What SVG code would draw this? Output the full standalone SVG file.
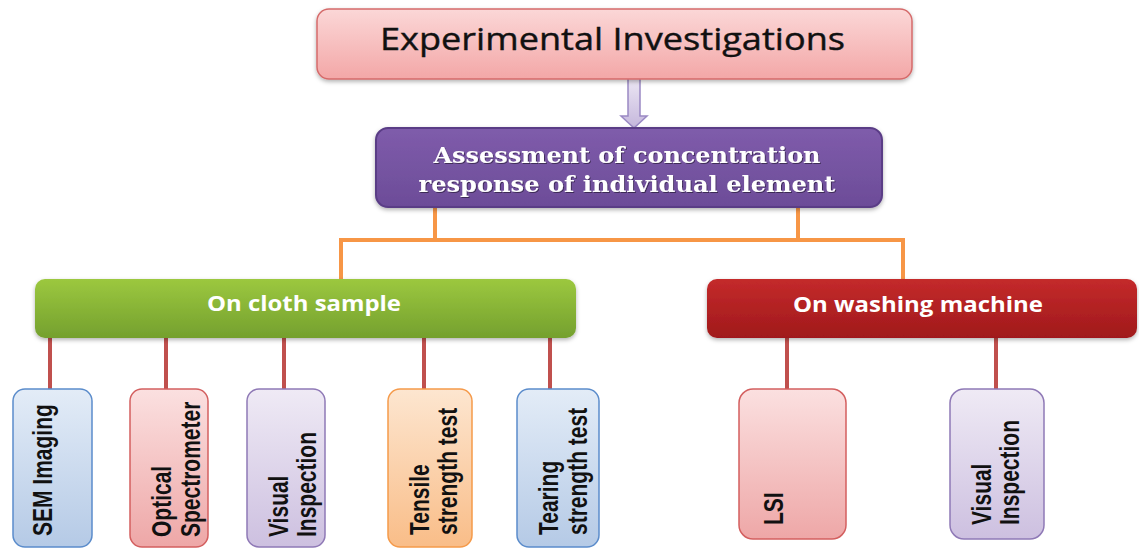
<svg xmlns="http://www.w3.org/2000/svg" width="1139" height="550" viewBox="0 0 1139 550">
<defs>
<linearGradient id="gPink" x1="0" y1="0" x2="0" y2="1"><stop offset="0" stop-color="#fbd7d7"/><stop offset="1" stop-color="#f3a7a7"/></linearGradient>
<linearGradient id="gArrow" x1="0" y1="0" x2="0" y2="1"><stop offset="0" stop-color="#ece7f4"/><stop offset="1" stop-color="#c5b7dc"/></linearGradient>
<linearGradient id="gPurple" x1="0" y1="0" x2="0" y2="1"><stop offset="0" stop-color="#7f5cab"/><stop offset="1" stop-color="#6c4c98"/></linearGradient>
<linearGradient id="gGreen" x1="0" y1="0" x2="0" y2="1"><stop offset="0" stop-color="#9cc83f"/><stop offset="1" stop-color="#74a02e"/></linearGradient>
<linearGradient id="gRed" x1="0" y1="0" x2="0" y2="1"><stop offset="0" stop-color="#c42a2b"/><stop offset="1" stop-color="#a0191b"/></linearGradient>
<linearGradient id="cBlue" x1="0" y1="0" x2="0" y2="1"><stop offset="0" stop-color="#e3ecf7"/><stop offset="1" stop-color="#b5cae6"/></linearGradient>
<linearGradient id="cPink" x1="0" y1="0" x2="0" y2="1"><stop offset="0" stop-color="#fbe0e0"/><stop offset="1" stop-color="#eea7a7"/></linearGradient>
<linearGradient id="cLav" x1="0" y1="0" x2="0" y2="1"><stop offset="0" stop-color="#efeaf5"/><stop offset="1" stop-color="#cdc0e0"/></linearGradient>
<linearGradient id="cOrange" x1="0" y1="0" x2="0" y2="1"><stop offset="0" stop-color="#fde6d0"/><stop offset="1" stop-color="#f9bd88"/></linearGradient>
<filter id="sh" x="-5%" y="-10%" width="110%" height="130%"><feDropShadow dx="0" dy="2" stdDeviation="2" flood-color="#000" flood-opacity="0.3"/></filter>
<filter id="tsh" x="-5%" y="-20%" width="110%" height="150%"><feDropShadow dx="1" dy="1" stdDeviation="0.6" flood-color="#000" flood-opacity="0.45"/></filter>
</defs>
<style>
.lbl{font-family:"Liberation Sans",Arial,sans-serif;font-weight:bold;font-size:21px;fill:#111;}
.hdr{font-family:"Open Sans","Liberation Sans",sans-serif;font-weight:bold;font-size:21px;fill:#fff;text-anchor:middle;}
.orange{stroke:#f79646;stroke-width:4;fill:none;}
.red{stroke:#c0504d;stroke-width:4;fill:none;}
</style>
<rect width="1139" height="550" fill="#fff"/>
<g id="connectors">
<polygon points="628,78 640,78 640,116 647,116 634,128 621,116 628,116" fill="url(#gArrow)" stroke="#9a89c4" stroke-width="1.5"/>
<path class="orange" d="M435,207 V240 M798,207 V240 M341,279 V240 H903 V279"/>
<path class="red" d="M50,338 V389 M166,338 V389 M284,338 V389 M424,338 V389 M550,338 V389 M787,338 V389 M996,338 V389"/>
</g>
<g id="n-top">
<rect x="317" y="9" width="595" height="70" rx="12" fill="url(#gPink)" stroke="#d56b6b" stroke-width="1.5" filter="url(#sh)"/>
<text x="612.5" y="50" text-anchor="middle" font-family="Open Sans, Liberation Sans, sans-serif" font-size="31" fill="#111" stroke="#111" stroke-width="0.4" textLength="465" lengthAdjust="spacingAndGlyphs">Experimental Investigations</text>
</g>
<g id="n-assess">
<rect x="376" y="128" width="506" height="79" rx="12" fill="url(#gPurple)" stroke="#5a3c86" stroke-width="2" filter="url(#sh)"/>
<g font-family="DejaVu Serif, Liberation Serif, serif" font-weight="bold" font-size="22" fill="#fff" text-anchor="middle" filter="url(#tsh)">
<text x="627" y="163" textLength="387" lengthAdjust="spacingAndGlyphs">Assessment of concentration</text>
<text x="627" y="192" textLength="417" lengthAdjust="spacingAndGlyphs">response of individual element</text>
</g>
</g>
<g id="n-cloth">
<rect x="35" y="279" width="541" height="59" rx="10" fill="url(#gGreen)" filter="url(#sh)"/>
<text class="hdr" x="304" y="311" textLength="194" lengthAdjust="spacingAndGlyphs">On cloth sample</text>
</g>
<g id="n-washing">
<rect x="707" y="279" width="430" height="59" rx="10" fill="url(#gRed)" filter="url(#sh)"/>
<text class="hdr" x="918" y="312" textLength="250" lengthAdjust="spacingAndGlyphs">On washing machine</text>
</g>
<g id="n-sem">
<rect x="13" y="389" width="79" height="158" rx="12" fill="url(#cBlue)" stroke="#5b8ccb" stroke-width="1.5"/>
<text class="lbl" transform="translate(52,536) rotate(-90) scale(1,1.28)">SEM Imaging</text>
</g>
<g id="n-optical">
<rect x="130" y="389" width="78" height="158" rx="12" fill="url(#cPink)" stroke="#d35f5f" stroke-width="1.5"/>
<text class="lbl" transform="translate(171,537) rotate(-90) scale(1,1.28)">Optical</text>
<text class="lbl" transform="translate(200,537) rotate(-90) scale(1,1.28)">Spectrometer</text>
</g>
<g id="n-visual1">
<rect x="247" y="389" width="78" height="158" rx="12" fill="url(#cLav)" stroke="#8f79b6" stroke-width="1.5"/>
<text class="lbl" transform="translate(288,537) rotate(-90) scale(1,1.28)">Visual</text>
<text class="lbl" transform="translate(316,537) rotate(-90) scale(1,1.28)">Inspection</text>
</g>
<g id="n-tensile">
<rect x="388" y="389" width="84" height="158" rx="12" fill="url(#cOrange)" stroke="#f59a4a" stroke-width="1.5"/>
<text class="lbl" transform="translate(429,535) rotate(-90) scale(1,1.28)">Tensile</text>
<text class="lbl" transform="translate(457,535) rotate(-90) scale(1,1.28)">strength test</text>
</g>
<g id="n-tearing">
<rect x="517" y="389" width="82" height="158" rx="12" fill="url(#cBlue)" stroke="#5b8ccb" stroke-width="1.5"/>
<text class="lbl" transform="translate(558,535) rotate(-90) scale(1,1.28)">Tearing</text>
<text class="lbl" transform="translate(587,535) rotate(-90) scale(1,1.28)">strength test</text>
</g>
<g id="n-lsi">
<rect x="739" y="389" width="107" height="150" rx="14" fill="url(#cPink)" stroke="#d35f5f" stroke-width="1.5"/>
<text class="lbl" transform="translate(783,525) rotate(-90) scale(1,1.28)">LSI</text>
</g>
<g id="n-visual2">
<rect x="950" y="389" width="94" height="150" rx="14" fill="url(#cLav)" stroke="#8f79b6" stroke-width="1.5"/>
<text class="lbl" transform="translate(991,525) rotate(-90) scale(1,1.28)">Visual</text>
<text class="lbl" transform="translate(1019,525) rotate(-90) scale(1,1.28)">Inspection</text>
</g>
</svg>
